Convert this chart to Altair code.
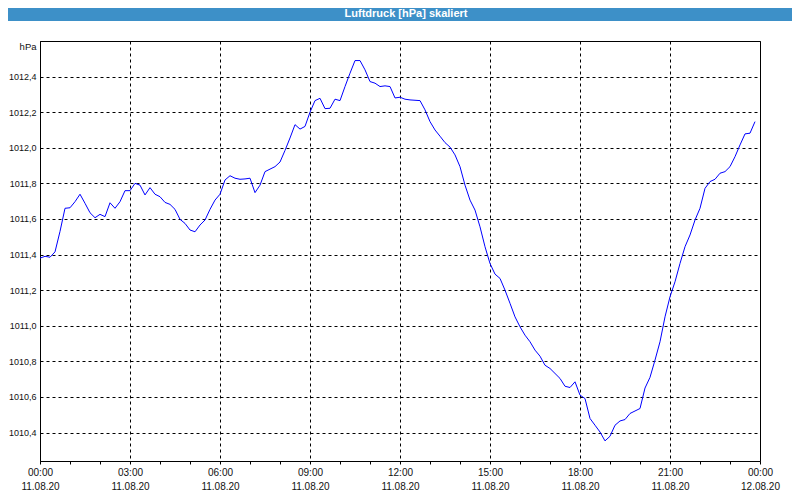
import altair as alt
import pandas as pd

# minutes since 11.08.20 00:00
minutes = list(range(0, 1440, 10))
pressure = [
    1011.38, 1011.39, 1011.385, 1011.415, 1011.53, 1011.66, 1011.663, 1011.697, 1011.739, 1011.688,
    1011.635, 1011.607, 1011.626, 1011.613, 1011.691, 1011.66, 1011.697, 1011.759, 1011.759, 1011.80,
    1011.79, 1011.735, 1011.776, 1011.739, 1011.725, 1011.693, 1011.682, 1011.654, 1011.598, 1011.575,
    1011.538, 1011.528, 1011.566, 1011.594, 1011.654, 1011.706, 1011.739, 1011.819, 1011.843, 1011.829,
    1011.823, 1011.825, 1011.829, 1011.748, 1011.79, 1011.866, 1011.88, 1011.894, 1011.92, 1011.985,
    1012.055, 1012.13, 1012.105, 1012.12, 1012.2, 1012.265, 1012.278, 1012.22, 1012.222, 1012.273,
    1012.265, 1012.344, 1012.419, 1012.49, 1012.49, 1012.438, 1012.372, 1012.363, 1012.344, 1012.348,
    1012.344, 1012.28, 1012.284, 1012.273, 1012.269, 1012.267, 1012.265, 1012.213, 1012.147, 1012.10,
    1012.065, 1012.029, 1012.004, 1011.96, 1011.894, 1011.79, 1011.706, 1011.65, 1011.556, 1011.444,
    1011.35, 1011.29, 1011.266, 1011.2, 1011.126, 1011.05, 1010.994, 1010.947, 1010.91, 1010.863,
    1010.829, 1010.778, 1010.76, 1010.732, 1010.704, 1010.66, 1010.653, 1010.685, 1010.61, 1010.591,
    1010.479, 1010.441, 1010.403, 1010.353, 1010.379, 1010.441, 1010.465, 1010.473, 1010.507, 1010.521,
    1010.535, 1010.65, 1010.71, 1010.807, 1010.91, 1011.05, 1011.163, 1011.247, 1011.35, 1011.444,
    1011.51, 1011.594, 1011.66, 1011.772, 1011.81, 1011.823, 1011.857, 1011.866, 1011.894, 1011.95,
    1012.016, 1012.078, 1012.082, 1012.147,
]
y_ticks = [1010.4, 1010.6, 1010.8, 1011.0, 1011.2, 1011.4, 1011.6, 1011.8, 1012.0, 1012.2, 1012.4]
x_ticks = list(range(0, 1441, 60))
title_text = "Luftdruck [hPa] skaliert"

df = pd.DataFrame({"min": minutes, "p": pressure})

FONT = "Liberation Sans"

x_label_expr = (
    "datum.value % 180 == 0 ? ["
    "(floor(datum.value/60) % 24 < 10 ? '0' : '') + (floor(datum.value/60) % 24) + ':00', "
    "datum.value < 1440 ? '11.08.20' : '12.08.20'] : ''"
)

line = alt.Chart(df).mark_line(color="#0000ff", strokeWidth=1, clip=True).encode(
    x=alt.X(
        "min:Q",
        scale=alt.Scale(domain=[0, 1440], nice=False, zero=False),
        axis=alt.Axis(
            values=x_ticks,
            title=None,
            labelExpr=x_label_expr,
            labelFont=FONT,
            labelFontSize=10,
            labelColor="#111111",
            labelLineHeight=14,
            labelPadding=3,
            labelBaseline="top",
            labelFlush=False,
            labelOverlap=False,
            tickSize=3,
            tickColor="#000000",
            domainColor="#000000",
            grid=True,
            gridColor="#000000",
            gridDash=[3, 3],
            gridOpacity=alt.condition("datum.value % 180 == 0", alt.value(1), alt.value(0)),
        ),
    ),
    y=alt.Y(
        "p:Q",
        scale=alt.Scale(domain=[1010.24, 1012.6], nice=False, zero=False),
        axis=alt.Axis(
            values=y_ticks,
            title="hPa",
            titleAngle=0,
            titleAlign="right",
            titleBaseline="middle",
            titleX=-4,
            titleY=5,
            titleFont=FONT,
            titleFontSize=9.5,
            titleFontWeight="normal",
            titleColor="#111111",
            labelExpr="replace(format(datum.value, '.1f'), '.', ',')",
            labelFont=FONT,
            labelFontSize=9,
            labelColor="#111111",
            labelPadding=4,
            ticks=False,
            domainColor="#000000",
            grid=True,
            gridColor="#000000",
            gridDash=[3, 3],
        ),
    ),
)

bar = alt.Chart(pd.DataFrame({"t": [title_text]})).mark_rect(color="#3d90c8", clip=False).encode(
    x=alt.value(-40), x2=alt.value(800), y=alt.value(-40), y2=alt.value(-20)
)
bar_text = alt.Chart(pd.DataFrame({"t": [title_text]})).mark_text(
    color="white", font=FONT, fontSize=11, fontWeight="bold", align="center", baseline="middle", clip=False
).encode(text="t:N", x=alt.value(366), y=alt.value(-27))

chart = (
    alt.layer(bar, bar_text, line)
    .properties(
        width=720,
        height=420,
        autosize=alt.AutoSizeParams(type="none"),
        padding={"left": 32, "top": 33, "right": 32, "bottom": 30},
        background="#ffffff",
    )
    .configure_view(stroke="#000000", strokeWidth=1)
)

chart.save("out.html", embed_options={"renderer": "svg", "actions": False})
